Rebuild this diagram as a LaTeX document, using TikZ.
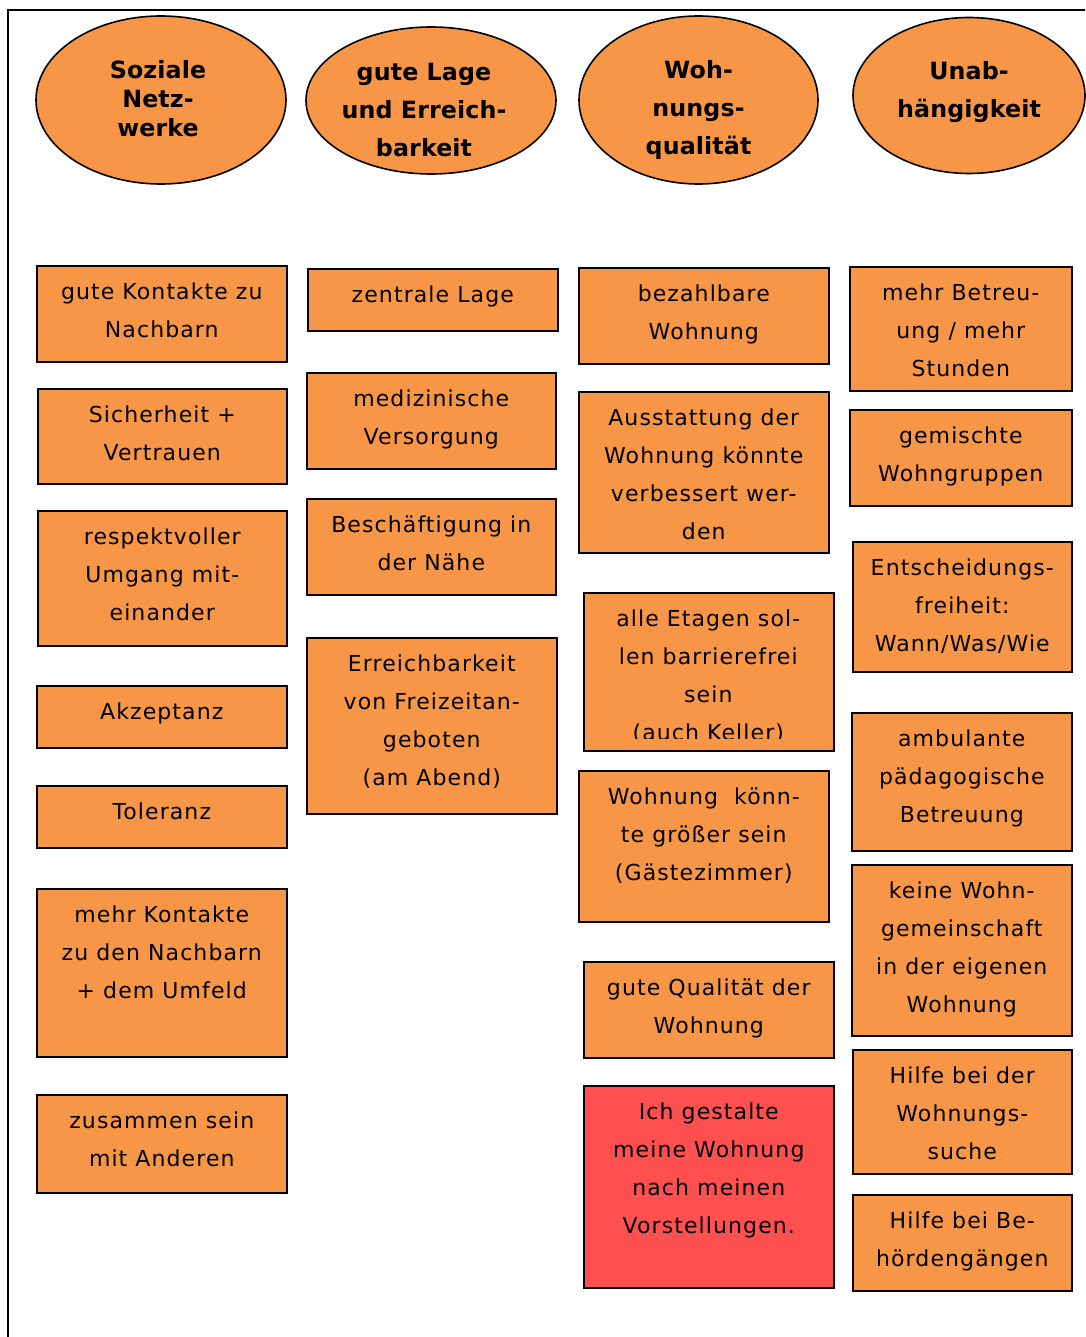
\documentclass[tikz,border=0pt]{standalone}
\usepackage{fontspec}
\setmainfont{DejaVu Sans}[LetterSpace=5]
\usetikzlibrary{shapes.geometric}
\newlength\pxu
\setlength\pxu{0.75pt}
\definecolor{boxorange}{HTML}{F79646}
\definecolor{boxred}{HTML}{FF5050}
% text block of a box: fixed size, lines centred, set from the top
\newcommand\cell[3]{\parbox[c][#2\pxu][t]{#1\pxu}{\centering\fontsize{16.5pt}{28.5pt}\selectfont\rule{0pt}{34\pxu}#3\par}}
% heading text inside an ellipse: no size of its own, first baseline raised by #1,
% moved sideways by half of #4
\newcommand\headtext[4]{\makebox[0pt]{\hspace{#4\pxu}\raisebox{#1\pxu}[0pt][0pt]{\parbox[t]{240\pxu}{\centering\bfseries\fontsize{17.8pt}{#2\pxu}\selectfont\addfontfeature{LetterSpace=0.5}#3\par}}}}
\tikzset{
  box/.style={draw=black, line width=1.6\pxu, fill=boxorange, inner sep=0pt, anchor=north west},
  redbox/.style={box, fill=boxred},
  head/.style={ellipse, draw=black, line width=1.6\pxu, fill=boxorange, inner sep=0pt},
  frame/.style={draw=black, line width=2\pxu},
}
\begin{document}
\begin{tikzpicture}[x=0.75pt,y=-0.75pt]
\useasboundingbox (0,0) rectangle (1085,1337);
\draw[frame] (1085,10) -- (8,10) -- (8,1337);

% headings
\node[head, minimum width=250\pxu, minimum height=168\pxu] (h1) at (161,100) {\headtext{21.5}{29}{Soziale\\Netz-\\werke}{-6}};
\node[head, minimum width=250\pxu, minimum height=147\pxu] (h2) at (431,100.5) {\headtext{20}{38}{gute Lage\\und Erreich-\\barkeit}{-14}};
\node[head, minimum width=239\pxu, minimum height=168\pxu] (h3) at (698.5,100) {\headtext{21.5}{38}{Woh-\\nungs-\\qualität}{0}};
\node[head, minimum width=232\pxu, minimum height=156\pxu] (h4) at (969,95.5) {\headtext{16}{38}{Unab-\\hängigkeit}{0}};

% Soziale Netzwerke
\node[box] (a1) at (36,265) {\cell{250}{96}{gute Kontakte zu\\Nachbarn}};
\node[box] (a2) at (37,388) {\cell{249}{95}{Sicherheit +\\Vertrauen}};
\node[box] (a3) at (37,510) {\cell{249}{135}{respektvoller\\Umgang mit-\\einander}};
\node[box] (a4) at (36,685) {\cell{250}{62}{Akzeptanz}};
\node[box] (a5) at (36,785) {\cell{250}{62}{Toleranz}};
\node[box] (a6) at (36,888) {\cell{250}{168}{mehr Kontakte\\zu den Nachbarn\\+ dem Umfeld}};
\node[box] (a7) at (36,1094) {\cell{250}{98}{zusammen sein\\mit Anderen}};

% gute Lage und Erreichbarkeit
\node[box] (b1) at (307,268) {\cell{250}{62}{zentrale Lage}};
\node[box] (b2) at (306,372) {\cell{249}{96}{medizinische\\Versorgung}};
\node[box] (b3) at (306,498) {\cell{249}{96}{Beschäftigung in\\der Nähe}};
\node[box] (b4) at (306,637) {\cell{250}{176}{Erreichbarkeit\\von Freizeitan-\\geboten\\(am Abend)}};

% Wohnungsqualität
\node[box] (c1) at (578,267) {\cell{250}{96}{bezahlbare\\Wohnung}};
\node[box] (c2) at (578,391) {\cell{250}{161}{Ausstattung der\\Wohnung könnte\\verbessert wer-\\den}};
\node[box] (c3) at (583,592) {\cell{250}{158}{}};
\begin{scope}
  \clip (583,592) rectangle (833,738);
  \node[inner sep=0pt, anchor=north west] (c3text) at (583,592) {\cell{250}{158}{alle Etagen sol-\\len barrierefrei\\sein\\(auch Keller)}};
\end{scope}
\node[box] (c4) at (578,770) {\cell{250}{151}{Wohnung\ \ könn-\\te größer sein\\(Gästezimmer)}};
\node[box] (c5) at (583,961) {\cell{250}{96}{gute Qualität der\\Wohnung}};
\node[redbox] (c6) at (583,1085) {\cell{250}{202}{Ich gestalte\\meine Wohnung\\nach meinen\\Vorstellungen.}};

% Unabhängigkeit
\node[box] (d1) at (849,266) {\cell{222}{124}{mehr Betreu-\\ung / mehr\\Stunden}};
\node[box] (d2) at (849,409) {\cell{222}{96}{gemischte\\Wohngruppen}};
\node[box] (d3) at (852,541) {\cell{219}{130}{Entscheidungs-\\freiheit:\\Wann/Was/Wie}};
\node[box] (d4) at (851,712) {\cell{220}{138}{ambulante\\pädagogische\\Betreuung}};
\node[box] (d5) at (851,864) {\cell{220}{171}{keine Wohn-\\gemeinschaft\\in der eigenen\\Wohnung}};
\node[box] (d6) at (852,1049) {\cell{219}{124}{Hilfe bei der\\Wohnungs-\\suche}};
\node[box] (d7) at (852,1194) {\cell{219}{96}{Hilfe bei Be-\\hördengängen}};
\end{tikzpicture}
\end{document}
